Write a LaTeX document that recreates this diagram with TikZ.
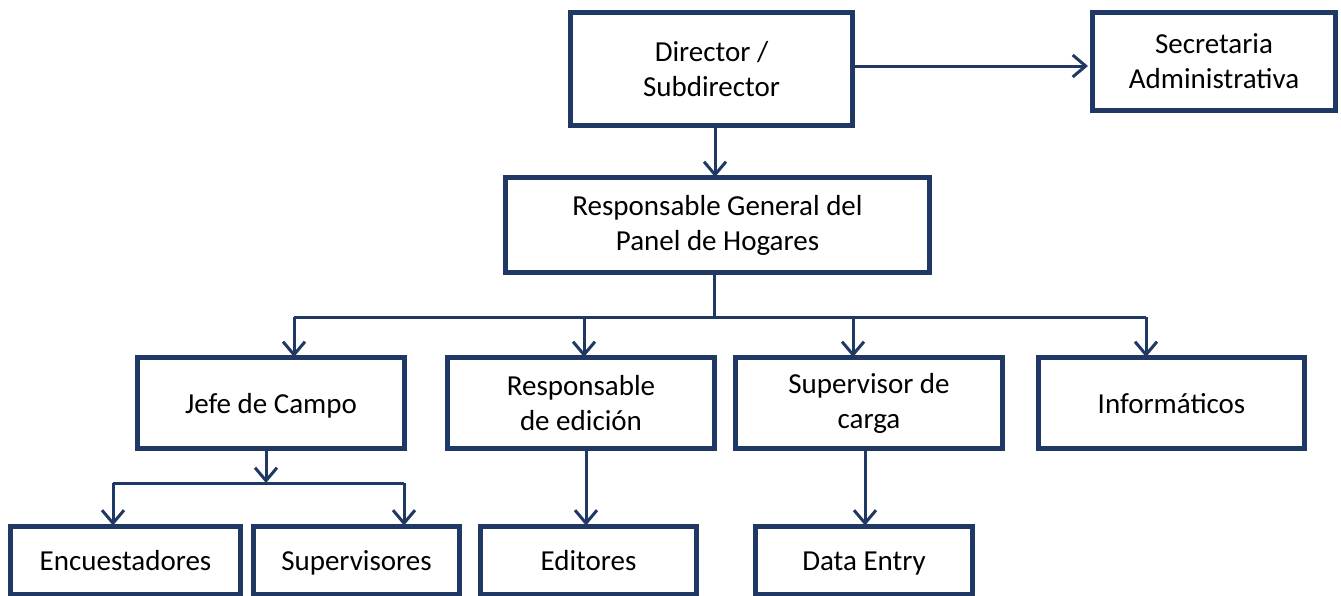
\documentclass[tikz,border=0pt]{standalone}
\usepackage{fontspec}
\setmainfont{Carlito}
\usetikzlibrary{arrows.meta}
\definecolor{navy}{HTML}{1F3864}
\begin{document}
\begin{tikzpicture}[x=1pt,y=-1pt,
  box/.style={draw=navy,line width=5pt,fill=white,align=center,inner sep=0pt,
    font=\fontsize{29}{35}\selectfont,text=black},
  oneline/.style={box,text height=24pt,text depth=4pt},
  conn/.style={draw=navy,line width=3pt},
  arr/.style={conn,-{Straight Barb[length=13pt,width=22pt,line width=3pt]}}]
\useasboundingbox (0,0) rectangle (1341,595);
% level 1
\node[box,minimum width=282pt,minimum height=113pt] (dir) at (711.5,69) {Director /\\Subdirector};
\node[box,minimum width=243pt,minimum height=98pt] (sec) at (1214,61.5) {Secretaria\\Administrativa};
% level 2
\node[box,minimum width=424pt,minimum height=95pt] (rg) at (717.5,225) {Responsable General del\\Panel de Hogares};
% level 3
\node[oneline,minimum width=267pt,minimum height=91pt] (jefe) at (271,403) {Jefe de Campo};
\node[box,minimum width=267pt,minimum height=91pt] (red) at (581,403) {Responsable\\de edición};
\node[box,minimum width=267pt,minimum height=91pt] (sdc) at (869,403) {Supervisor de\\carga};
\node[oneline,minimum width=266pt,minimum height=91pt] (inf) at (1171.5,403) {Informáticos};
% level 4
\node[oneline,minimum width=230pt,minimum height=68pt] (enc) at (125.5,560) {Encuestadores};
\node[oneline,minimum width=206pt,minimum height=68pt] (sup) at (356.5,560) {Supervisores};
\node[oneline,minimum width=216pt,minimum height=68pt] (edi) at (588.5,560) {Editores};
\node[oneline,minimum width=217pt,minimum height=68pt] (dat) at (864,560) {Data Entry};
% coordinates
\coordinate (bus) at (714,317);
\coordinate (bus2) at (266,483);
% connectors
\draw[arr] (dir.east|-0,66) -- ([xshift=-2pt]sec.west|-0,66);
\draw[arr] (dir.south-|715,0) -- ([yshift=-2pt]rg.north-|715,0);
\draw[conn] (rg.south-|bus) -- (bus);
\draw[conn] (bus-|294,0) -- (bus-|1146,0);
\draw[arr] (bus-|294,0) -- ([yshift=-2pt]jefe.north-|294,0);
\draw[arr] (bus-|584,0) -- ([yshift=-2pt]red.north-|584,0);
\draw[arr] (bus-|853,0) -- ([yshift=-2pt]sdc.north-|853,0);
\draw[arr] (bus-|1146,0) -- ([yshift=-2pt]inf.north-|1146,0);
\draw[arr] (jefe.south-|bus2) -- (bus2);
\draw[conn] (bus2-|113,0) -- (bus2-|404,0);
\draw[arr] (bus2-|113,0) -- ([yshift=-2pt]enc.north-|113,0);
\draw[arr] (bus2-|404,0) -- ([yshift=-2pt]sup.north-|404,0);
\draw[arr] (red.south-|586,0) -- ([yshift=-2pt]edi.north-|586,0);
\draw[arr] (sdc.south-|865,0) -- ([yshift=-2pt]dat.north-|865,0);
\end{tikzpicture}
\end{document}
